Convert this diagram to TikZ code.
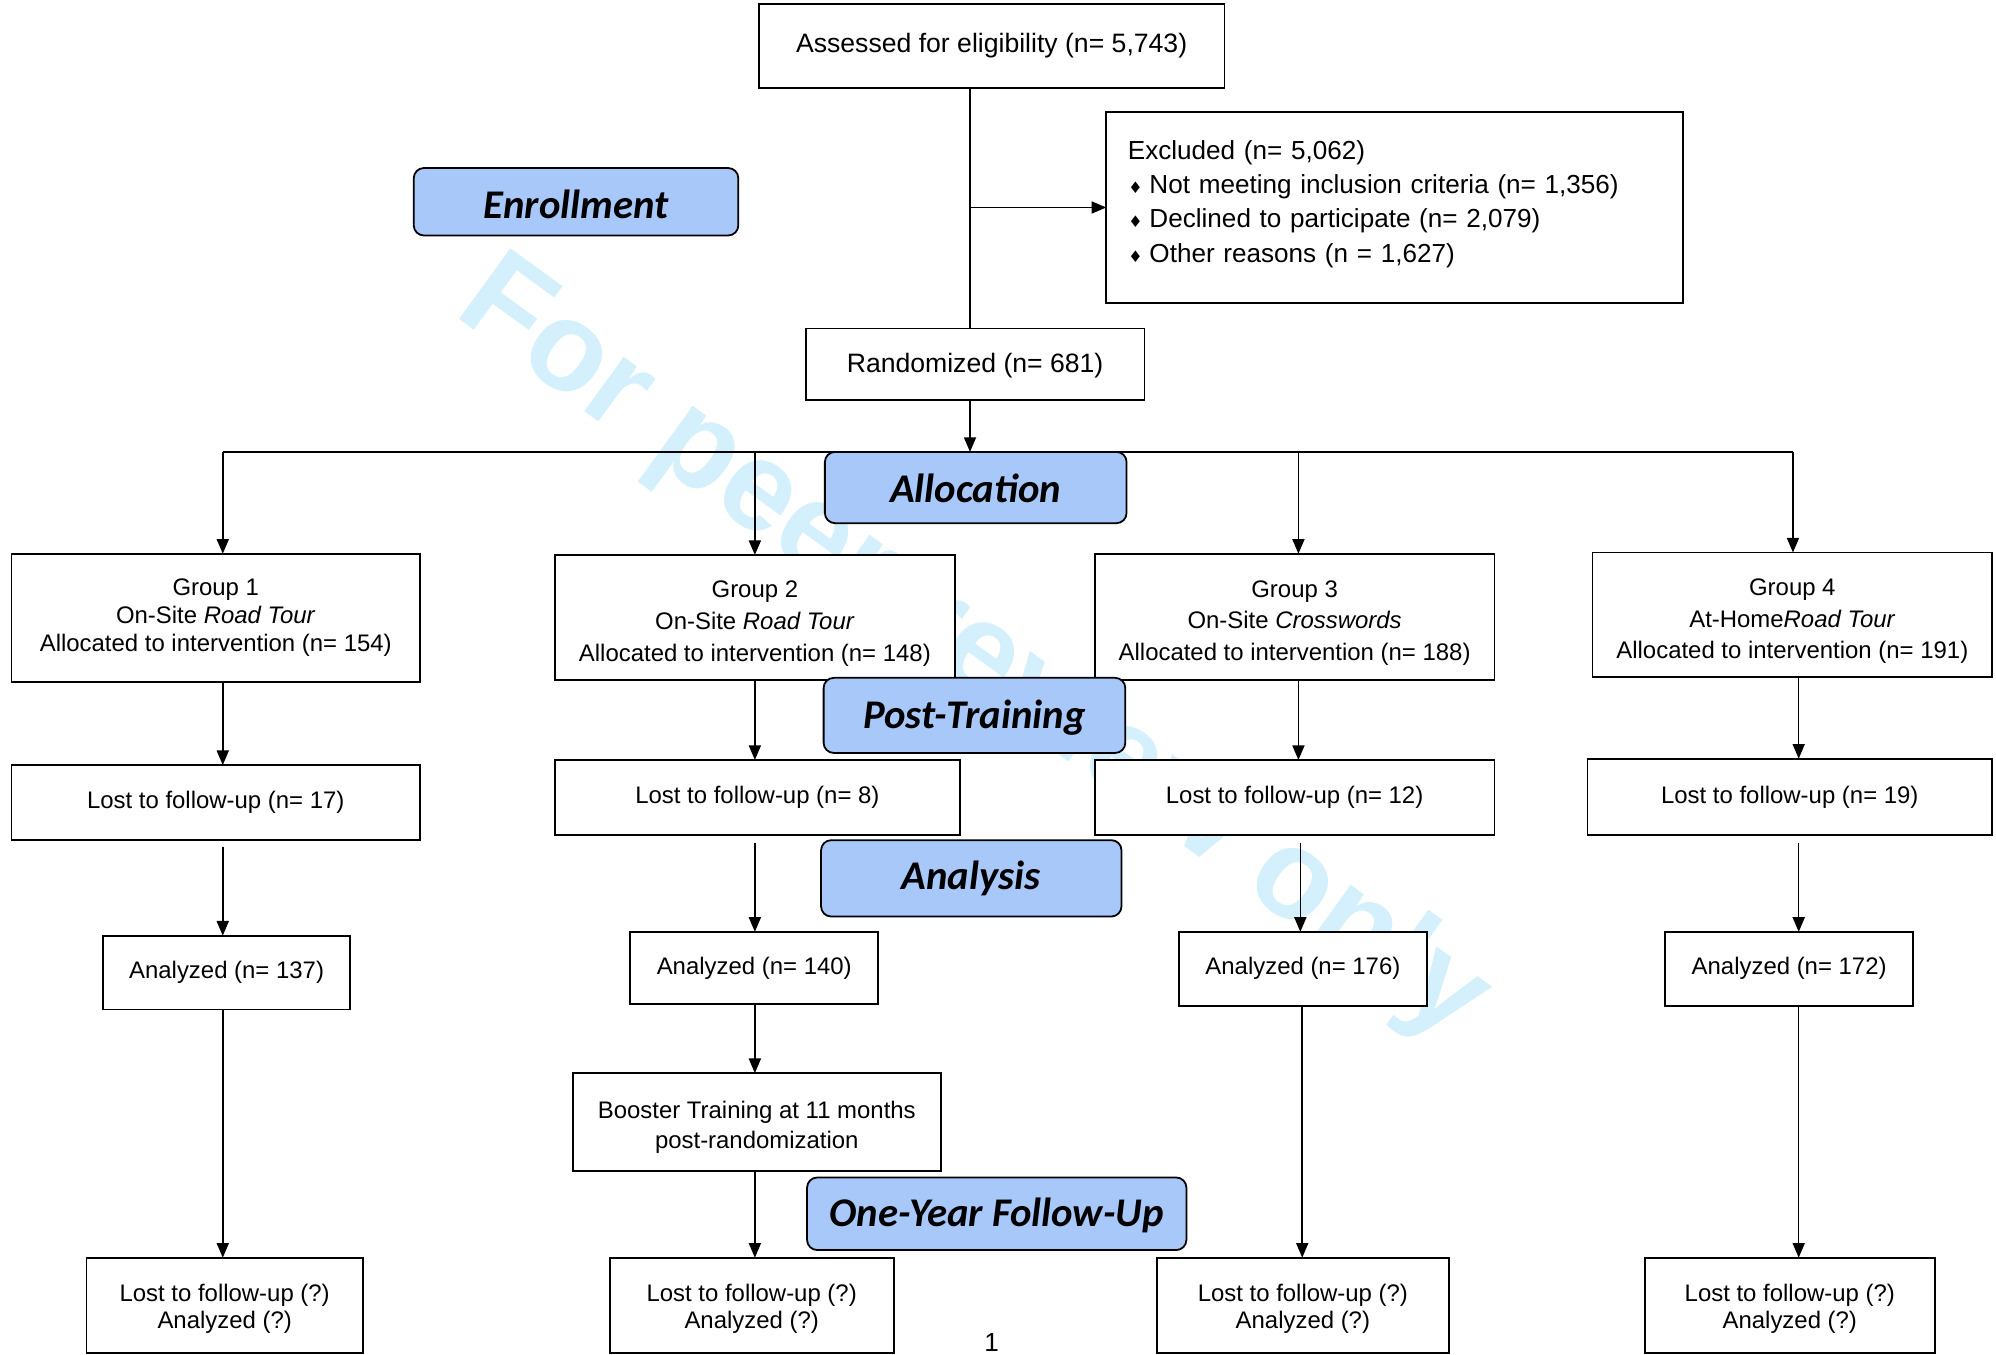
\documentclass[tikz,border=0pt]{standalone}
\usepackage{fontspec}
\setmainfont{Liberation Sans}
\newfontfamily\stagefont{Carlito}
\newfontfamily\djv{DejaVu Sans}
\usetikzlibrary{arrows.meta}
\definecolor{stageblue}{HTML}{A8C8FA}
\definecolor{wmcyan}{HTML}{D4F0FC}
\newcommand{\dmd}{\makebox[17pt][l]{\hspace{0.5pt}{\djv\fontsize{12.5}{12.5}\selectfont ♦}}}
\newcommand{\lift}[1]{\rule{0pt}{#1}}
\newcommand{\sink}[1]{\rule[-#1]{0pt}{0pt}}
\begin{document}
\begin{tikzpicture}[x=1pt,y=-1pt,
  box/.style={draw=black, line width=1.4pt, fill=white, inner sep=0pt, outer sep=0pt, align=center},
  big/.style={font=\fontsize{20.9}{27}\selectfont},
  exfont/.style={font=\fontsize{20.5}{27}\selectfont},
  small/.style={font=\fontsize{18.8}{25}\selectfont},
  stage/.style={draw=black, line width=1.4pt, fill=stageblue, rounded corners=8pt, inner sep=0pt, outer sep=0pt, text depth=0pt, font=\stagefont\bfseries\itshape\fontsize{32}{32}\selectfont},
  arr/.style={line width=1.2pt, -{Triangle[length=11.5pt,width=9.5pt]}},
  ln/.style={line width=1.2pt},
  wmark/.style={font=\bfseries\fontsize{100}{100}\selectfont, text=wmcyan, inner sep=0pt}
]
\useasboundingbox (0,0) rectangle (1568,1064);
% watermark
\node[wmark, anchor=base west, rotate=-36] (wm) at (355,247) {For peer review only};

% top part
\node[box, big, minimum width=366pt, minimum height=66pt] (assess) at (779,36) {Assessed for eligibility (n= 5,743)};
\node[box, exfont, align=left, text width=419pt, minimum width=453pt, minimum height=150pt] (excl) at (1095.5,163)
  {Excluded (n= 5,062)\\ \dmd Not meeting inclusion criteria (n= 1,356)\\ \dmd Declined to participate (n= 2,079)\\ \dmd Other reasons (n = 1,627)\sink{10pt}};
\node[box, big, minimum width=266pt, minimum height=56pt, text height=17.7pt, text depth=4.3pt] (rand) at (766,286) {Randomized (n= 681)};

% groups
\node[box, font=\fontsize{18.8}{22}\selectfont, minimum width=321pt, minimum height=101pt] (g1) at (169.5,485.5) {Group 1\\On-Site \textit{Road Tour}\\Allocated to intervention (n= 154)};
\node[box, small, minimum width=314pt, minimum height=98pt] (g2) at (593,485) {\lift{23pt}Group 2\\On-Site \textit{Road Tour}\\Allocated to intervention (n= 148)};
\node[box, small, minimum width=314pt, minimum height=99pt] (g3) at (1017,484.5) {\lift{23pt}Group 3\\On-Site \textit{Crosswords}\\Allocated to intervention (n= 188)};
\node[box, small, minimum width=314pt, minimum height=98pt] (g4) at (1408,483) {\lift{23pt}Group 4\\At-Home\textit{Road Tour}\\Allocated to intervention (n= 191)};

% lost
\node[box, small, minimum width=321pt, minimum height=59pt] (l1) at (169.5,630.5) {Lost to follow-up (n= 17)};
\node[box, small, minimum width=318pt, minimum height=59pt] (l2) at (595,626.5) {Lost to follow-up (n= 8)};
\node[box, small, minimum width=314pt, minimum height=59pt] (l3) at (1017,626.5) {Lost to follow-up (n= 12)};
\node[box, small, minimum width=318pt, minimum height=60pt] (l4) at (1406,626) {Lost to follow-up (n= 19)};

% analyzed
\node[box, small, minimum width=194pt, minimum height=58pt] (a1) at (178,764) {Analyzed (n= 137)};
\node[box, small, minimum width=195pt, minimum height=57pt] (a2) at (592.5,760.5) {Analyzed (n= 140)};
\node[box, small, minimum width=195pt, minimum height=58pt] (a3) at (1023.5,761) {Analyzed (n= 176)};
\node[box, small, minimum width=195pt, minimum height=58pt] (a4) at (1405.5,761) {Analyzed (n= 172)};

% booster
\node[box, font=\fontsize{18.8}{24}\selectfont, minimum width=289pt, minimum height=77pt] (boost) at (594.5,881.5) {\lift{21.7pt}Booster Training at 11 months\\post-randomization};

% final
\node[box, font=\fontsize{18.8}{21}\selectfont, minimum width=217pt, minimum height=75pt] (f1) at (176.5,1025.5) {\lift{18.7pt}Lost to follow-up (?)\\Analyzed (?)};
\node[box, font=\fontsize{18.8}{21}\selectfont, minimum width=223pt, minimum height=75pt] (f2) at (590.5,1025.5) {\lift{18.7pt}Lost to follow-up (?)\\Analyzed (?)};
\node[box, font=\fontsize{18.8}{21}\selectfont, minimum width=229pt, minimum height=75pt] (f3) at (1023.5,1025.5) {\lift{18.7pt}Lost to follow-up (?)\\Analyzed (?)};
\node[box, font=\fontsize{18.8}{21}\selectfont, minimum width=228pt, minimum height=75pt] (f4) at (1406,1025.5) {\lift{18.7pt}Lost to follow-up (?)\\Analyzed (?)};

% column coordinates
\coordinate (cmain) at (762,0);
\coordinate (cx1) at (175,0);
\coordinate (cx2) at (593,0);
\coordinate (cx3) at (1020,0);
\coordinate (cx3b) at (1021.5,0);
\coordinate (cx3c) at (1023,0);
\coordinate (cx4) at (1408.5,0);
\coordinate (cx4b) at (1413,0);
\coordinate (bus) at (0,355);

% connectors
\draw[ln] (assess.south -| cmain) -- (rand.north -| cmain);
\draw[arr] (cmain |- excl.west) -- (excl.west);
\draw[arr] (rand.south -| cmain) -- (cmain |- bus);
\draw[ln] (cx1 |- bus) -- (cx4 |- bus);
\draw[arr] (cx1 |- bus) -- (g1.north -| cx1);
\draw[arr] (cx2 |- bus) -- (g2.north -| cx2);
\draw[arr] (cx3 |- bus) -- (g3.north -| cx3);
\draw[arr] (cx4 |- bus) -- (g4.north -| cx4);

\draw[arr] (g1.south -| cx1) -- (l1.north -| cx1);
\draw[arr] (g2.south -| cx2) -- (l2.north -| cx2);
\draw[arr] (g3.south -| cx3) -- (l3.north -| cx3);
\draw[arr] (g4.south -| cx4b) -- (l4.north -| cx4b);

\draw[arr, shorten <=5pt] (l1.south -| cx1) -- (a1.north -| cx1);
\draw[arr, shorten <=6pt] (l2.south -| cx2) -- (a2.north -| cx2);
\draw[arr, shorten <=6pt] (l3.south -| cx3b) -- (a3.north -| cx3b);
\draw[arr, shorten <=6pt] (l4.south -| cx4b) -- (a4.north -| cx4b);

\draw[arr] (a1.south -| cx1) -- (f1.north -| cx1);
\draw[arr] (a2.south -| cx2) -- (boost.north -| cx2);
\draw[arr] (boost.south -| cx2) -- (f2.north -| cx2);
\draw[arr] (a3.south -| cx3c) -- (f3.north -| cx3c);
\draw[arr] (a4.south -| cx4b) -- (f4.north -| cx4b);

% stage labels
\node[stage, minimum width=255pt, minimum height=53pt, text height=26.8pt] (enroll) at (452.5,158.5) {Enrollment};
\node[stage, minimum width=237pt, minimum height=56pt, text height=24.2pt] (alloc) at (766.5,383) {Allocation};
\node[stage, minimum width=237pt, minimum height=59pt, text height=20pt] (post) at (765.5,562) {Post-Training};
\node[stage, minimum width=236pt, minimum height=60pt, text height=18.2pt] (anal) at (763,690) {Analysis};
\node[stage, minimum width=298pt, minimum height=57pt, text height=19.4pt] (oneyr) at (783,953.5) {One-Year Follow-Up};

% page number
\node[font=\fontsize{20.5}{20.5}\selectfont, anchor=base, inner sep=0pt] (pg) at (779,1062) {1};
\end{tikzpicture}
\end{document}
